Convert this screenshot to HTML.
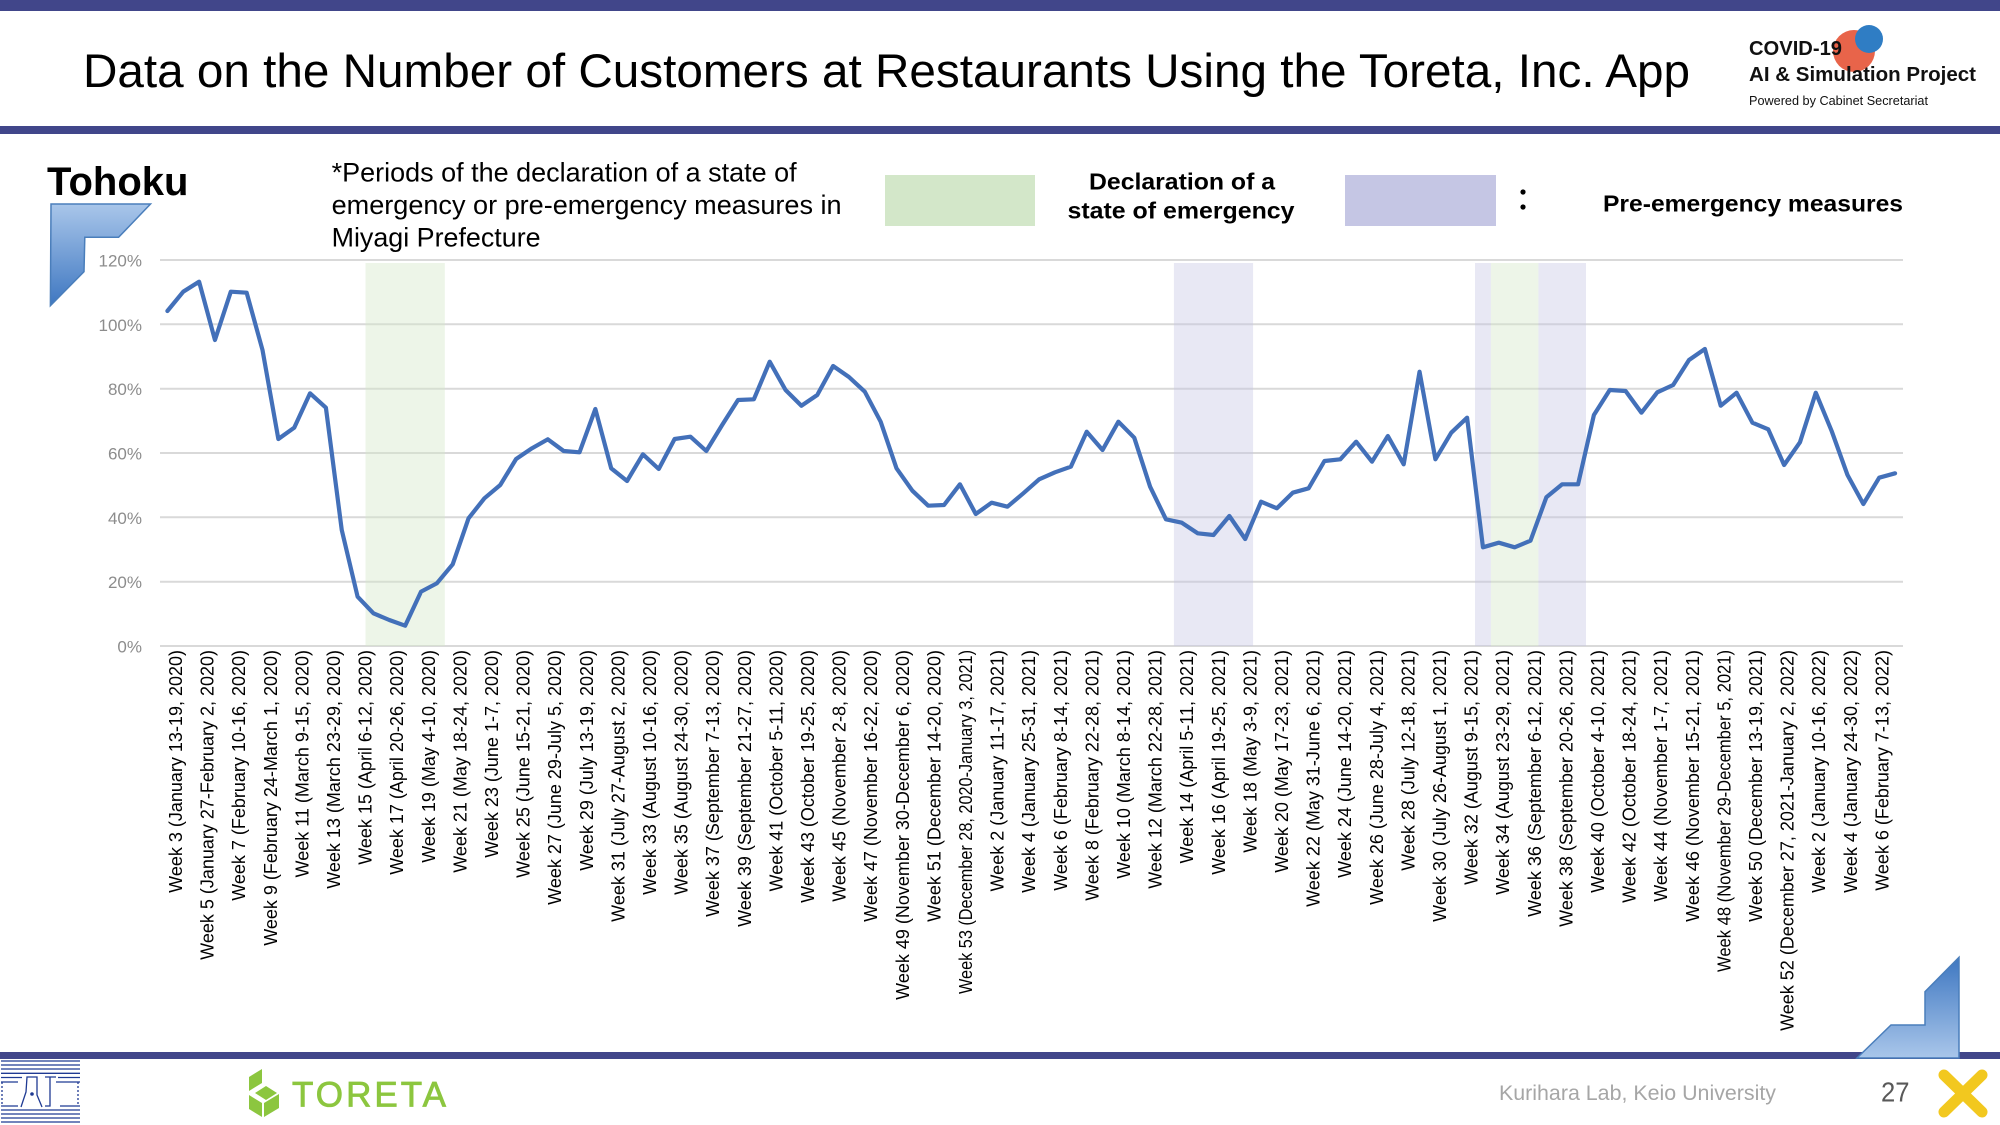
<!DOCTYPE html>
<html>
<head>
<meta charset="utf-8">
<style>
  html,body{margin:0;padding:0;background:#fff;}
  svg{display:block;}
  text{font-family:"Liberation Sans", Arial, sans-serif;}
</style>
</head>
<body>
<svg width="2000" height="1125" viewBox="0 0 2000 1125" xmlns="http://www.w3.org/2000/svg">
  <defs>
    <linearGradient id="gTL" x1="0" y1="0" x2="0" y2="1">
      <stop offset="0" stop-color="#A9C6EA"/>
      <stop offset="1" stop-color="#3E77C1"/>
    </linearGradient>
    <linearGradient id="gBR" x1="0" y1="0" x2="0" y2="1">
      <stop offset="0" stop-color="#3E77C1"/>
      <stop offset="1" stop-color="#A9C6EA"/>
    </linearGradient>
  </defs>

  <!-- header bars -->
  <rect x="0" y="0" width="2000" height="11" fill="#41468A"/>
  <rect x="0" y="126" width="2000" height="8" fill="#41468A"/>

  <!-- title -->
  <text x="83" y="87" font-size="47.5" fill="#000" textLength="1607" lengthAdjust="spacingAndGlyphs">Data on the Number of Customers at Restaurants Using the Toreta, Inc. App</text>

  <!-- COVID logo -->
  <circle cx="1854" cy="51" r="21" fill="#E8644A"/>
  <circle cx="1869" cy="39" r="14" fill="#2F7DC4"/>
  <text x="1749" y="55" font-size="20" font-weight="bold" fill="#111" textLength="93" lengthAdjust="spacingAndGlyphs">COVID-19</text>
  <text x="1749" y="81" font-size="20" font-weight="bold" fill="#111" textLength="227" lengthAdjust="spacingAndGlyphs">AI &amp; Simulation Project</text>
  <text x="1749" y="105" font-size="12.5" fill="#111" textLength="179" lengthAdjust="spacingAndGlyphs">Powered by Cabinet Secretariat</text>

  <!-- Tohoku -->
  <text x="47" y="195" font-size="40" font-weight="bold" fill="#000">Tohoku</text>
  <polygon points="51,204 150.5,204 118.6,237.3 84.8,237.3 84,271.7 50.4,305.7" fill="url(#gTL)" stroke="#4A7EBB" stroke-width="1.5"/>

  <!-- legend -->
  <text x="331.6" y="181.7" font-size="26.5" fill="#000" textLength="465" lengthAdjust="spacingAndGlyphs">*Periods of the declaration of a state of</text>
  <text x="331.6" y="214" font-size="26.5" fill="#000" textLength="510" lengthAdjust="spacingAndGlyphs">emergency or pre-emergency measures in</text>
  <text x="331.6" y="246.5" font-size="26.5" fill="#000" textLength="209" lengthAdjust="spacingAndGlyphs">Miyagi Prefecture</text>
  <rect x="885" y="175" width="150" height="51" fill="#D3E7C9"/>
  <text x="1182" y="189.3" font-size="23" font-weight="bold" fill="#000" text-anchor="middle" textLength="186" lengthAdjust="spacingAndGlyphs">Declaration of a</text>
  <text x="1181" y="218.3" font-size="23" font-weight="bold" fill="#000" text-anchor="middle" textLength="227" lengthAdjust="spacingAndGlyphs">state of emergency</text>
  <rect x="1345" y="175" width="151" height="51" fill="#C5C6E4"/>
  <circle cx="1523" cy="192" r="2.6" fill="#000"/>
  <circle cx="1523" cy="207" r="2.6" fill="#000"/>
  <text x="1603" y="211.7" font-size="23" font-weight="bold" fill="#000" textLength="300" lengthAdjust="spacingAndGlyphs">Pre-emergency measures</text>

  <!-- gridlines -->
  <g stroke="#D9D9D9" stroke-width="2">
    <line x1="160" y1="260" x2="1903" y2="260"/>
    <line x1="160" y1="324.3" x2="1903" y2="324.3"/>
    <line x1="160" y1="388.7" x2="1903" y2="388.7"/>
    <line x1="160" y1="453" x2="1903" y2="453"/>
    <line x1="160" y1="517.3" x2="1903" y2="517.3"/>
    <line x1="160" y1="581.7" x2="1903" y2="581.7"/>
    <line x1="160" y1="646" x2="1903" y2="646"/>
  </g>

  <!-- shaded bands -->
  <rect x="365.5" y="263" width="79.3" height="383" fill="#D3E7C9" fill-opacity="0.42"/>
  <rect x="1173.9" y="263" width="79.2" height="383" fill="#C5C6E4" fill-opacity="0.4"/>
  <rect x="1475.0" y="263" width="15.9" height="383" fill="#C5C6E4" fill-opacity="0.4"/>
  <rect x="1490.9" y="263" width="47.5" height="383" fill="#D3E7C9" fill-opacity="0.42"/>
  <rect x="1538.4" y="263" width="47.6" height="383" fill="#C5C6E4" fill-opacity="0.4"/>

  <!-- y labels -->
  <g font-size="17" fill="#8C8C8C" text-anchor="end">
    <text x="142" y="266.5">120%</text>
    <text x="142" y="330.8">100%</text>
    <text x="142" y="395.2">80%</text>
    <text x="142" y="459.5">60%</text>
    <text x="142" y="523.8">40%</text>
    <text x="142" y="588.2">20%</text>
    <text x="142" y="652.5">0%</text>
  </g>

  <!-- data line -->
  <polyline fill="none" stroke="#4370B9" stroke-width="4.2" stroke-linejoin="round" stroke-linecap="round" points="
167.4,311 183.25,291.7 199.1,281.7 214.95,340 230.8,291.7 246.65,292.7 262.5,350 278.35,439 294.2,427.7 310.05,393.3
325.9,407.7 341.75,530 357.6,596.7 373.45,613.3 389.3,620 405.15,625.7 421,591.7 436.85,583.3 452.7,564.3 468.55,518.3
484.4,498.3 500.25,485 516.1,459 531.95,448.3 547.8,439.3 563.65,451 579.5,452.3 595.35,409 611.2,468.3 627.05,481
642.9,454.3 658.75,469 674.6,439 690.45,436.7 706.3,451 722.15,425 738,400 753.85,399.3 769.7,361.7 785.55,390
801.4,405.7 817.25,395 833.1,366 848.95,377 864.8,391.7 880.65,421.7 896.5,468.3 912.35,490.7 928.2,505.7 944.05,505
959.9,484.3 975.75,514 991.6,502.7 1007.45,506.7 1023.3,493.3 1039.15,479.3 1055,472.3 1070.85,466.7 1086.7,431.7 1102.55,450
1118.4,421.7 1134.25,437.7 1150.1,486.7 1165.95,519.3 1181.8,522.7 1197.65,533.3 1213.5,535 1229.35,516 1245.2,539 1261.05,501.7
1276.9,508.3 1292.75,492.7 1308.6,488.3 1324.45,461 1340.3,459.3 1356.15,441.7 1372,461.7 1387.85,436 1403.7,464.3 1419.55,371.7
1435.4,459.3 1451.25,432.7 1467.1,417.7 1482.95,547.3 1498.8,542.7 1514.65,547.3 1530.5,540.7 1546.35,497.3 1562.2,484.3 1578.05,484.3
1593.9,415 1609.75,390 1625.6,391 1641.45,412.7 1657.3,392.3 1673.15,385 1689,360 1704.85,349 1720.7,405.7 1736.55,392.7
1752.4,422.7 1768.25,429.3 1784.1,465 1799.95,442.3 1815.8,392.7 1831.65,431 1847.5,475 1863.35,504 1879.2,477.7 1895.05,473.3"/>

  <!-- x labels -->
  <g font-size="18" fill="#000" text-anchor="end">
    <text transform="translate(182.0,650) rotate(-90)">Week 3 (January 13-19, 2020)</text>
    <text transform="translate(213.6,650) rotate(-90)">Week 5 (January 27-February 2, 2020)</text>
    <text transform="translate(245.2,650) rotate(-90)">Week 7 (February 10-16, 2020)</text>
    <text transform="translate(276.8,650) rotate(-90)">Week 9 (February 24-March 1, 2020)</text>
    <text transform="translate(308.4,650) rotate(-90)">Week 11 (March 9-15, 2020)</text>
    <text transform="translate(340.0,650) rotate(-90)">Week 13 (March 23-29, 2020)</text>
    <text transform="translate(371.6,650) rotate(-90)">Week 15 (April 6-12, 2020)</text>
    <text transform="translate(403.2,650) rotate(-90)">Week 17 (April 20-26, 2020)</text>
    <text transform="translate(434.8,650) rotate(-90)">Week 19 (May 4-10, 2020)</text>
    <text transform="translate(466.4,650) rotate(-90)">Week 21 (May 18-24, 2020)</text>
    <text transform="translate(498.0,650) rotate(-90)">Week 23 (June 1-7, 2020)</text>
    <text transform="translate(529.6,650) rotate(-90)">Week 25 (June 15-21, 2020)</text>
    <text transform="translate(561.2,650) rotate(-90)">Week 27 (June 29-July 5, 2020)</text>
    <text transform="translate(592.8,650) rotate(-90)">Week 29 (July 13-19, 2020)</text>
    <text transform="translate(624.4,650) rotate(-90)">Week 31 (July 27-August 2, 2020)</text>
    <text transform="translate(656.0,650) rotate(-90)">Week 33 (August 10-16, 2020)</text>
    <text transform="translate(687.6,650) rotate(-90)">Week 35 (August 24-30, 2020)</text>
    <text transform="translate(719.2,650) rotate(-90)">Week 37 (September 7-13, 2020)</text>
    <text transform="translate(750.8,650) rotate(-90)">Week 39 (September 21-27, 2020)</text>
    <text transform="translate(782.4,650) rotate(-90)">Week 41 (October 5-11, 2020)</text>
    <text transform="translate(814.0,650) rotate(-90)">Week 43 (October 19-25, 2020)</text>
    <text transform="translate(845.6,650) rotate(-90)">Week 45 (November 2-8, 2020)</text>
    <text transform="translate(877.2,650) rotate(-90)">Week 47 (November 16-22, 2020)</text>
    <text transform="translate(908.8,650) rotate(-90)">Week 49 (November 30-December 6, 2020)</text>
    <text transform="translate(940.4,650) rotate(-90)">Week 51 (December 14-20, 2020)</text>
    <text transform="translate(972.0,650) rotate(-90)" textLength="344" lengthAdjust="spacingAndGlyphs">Week 53 (December 28, 2020-January 3, 2021)</text>
    <text transform="translate(1003.6,650) rotate(-90)">Week 2 (January 11-17, 2021)</text>
    <text transform="translate(1035.2,650) rotate(-90)">Week 4 (January 25-31, 2021)</text>
    <text transform="translate(1066.8,650) rotate(-90)">Week 6 (February 8-14, 2021)</text>
    <text transform="translate(1098.4,650) rotate(-90)">Week 8 (February 22-28, 2021)</text>
    <text transform="translate(1130.0,650) rotate(-90)">Week 10 (March 8-14, 2021)</text>
    <text transform="translate(1161.6,650) rotate(-90)">Week 12 (March 22-28, 2021)</text>
    <text transform="translate(1193.2,650) rotate(-90)">Week 14 (April 5-11, 2021)</text>
    <text transform="translate(1224.8,650) rotate(-90)">Week 16 (April 19-25, 2021)</text>
    <text transform="translate(1256.4,650) rotate(-90)">Week 18 (May 3-9, 2021)</text>
    <text transform="translate(1288.0,650) rotate(-90)">Week 20 (May 17-23, 2021)</text>
    <text transform="translate(1319.6,650) rotate(-90)">Week 22 (May 31-June 6, 2021)</text>
    <text transform="translate(1351.2,650) rotate(-90)">Week 24 (June 14-20, 2021)</text>
    <text transform="translate(1382.8,650) rotate(-90)">Week 26 (June 28-July 4, 2021)</text>
    <text transform="translate(1414.4,650) rotate(-90)">Week 28 (July 12-18, 2021)</text>
    <text transform="translate(1446.0,650) rotate(-90)">Week 30 (July 26-August 1, 2021)</text>
    <text transform="translate(1477.6,650) rotate(-90)">Week 32 (August 9-15, 2021)</text>
    <text transform="translate(1509.2,650) rotate(-90)">Week 34 (August 23-29, 2021)</text>
    <text transform="translate(1540.8,650) rotate(-90)">Week 36 (September 6-12, 2021)</text>
    <text transform="translate(1572.4,650) rotate(-90)">Week 38 (September 20-26, 2021)</text>
    <text transform="translate(1604.0,650) rotate(-90)">Week 40 (October 4-10, 2021)</text>
    <text transform="translate(1635.6,650) rotate(-90)">Week 42 (October 18-24, 2021)</text>
    <text transform="translate(1667.2,650) rotate(-90)">Week 44 (November 1-7, 2021)</text>
    <text transform="translate(1698.8,650) rotate(-90)">Week 46 (November 15-21, 2021)</text>
    <text transform="translate(1730.4,650) rotate(-90)" textLength="322" lengthAdjust="spacingAndGlyphs">Week 48 (November 29-December 5, 2021)</text>
    <text transform="translate(1762.0,650) rotate(-90)">Week 50 (December 13-19, 2021)</text>
    <text transform="translate(1793.6,650) rotate(-90)">Week 52 (December 27, 2021-January 2, 2022)</text>
    <text transform="translate(1825.2,650) rotate(-90)">Week 2 (January 10-16, 2022)</text>
    <text transform="translate(1856.8,650) rotate(-90)">Week 4 (January 24-30, 2022)</text>
    <text transform="translate(1888.4,650) rotate(-90)">Week 6 (February 7-13, 2022)</text>
  </g>

  <!-- footer bar -->
  <rect x="0" y="1052" width="2000" height="7" fill="#41468A"/>

  <!-- bottom-right deco -->
  <polygon points="1857,1058 1891,1025 1925,1025 1925,991.7 1959,957.3 1959,1058" fill="url(#gBR)" stroke="#4A7EBB" stroke-width="1.5"/>

  <!-- left logo -->
  <g stroke="#1F3A93" stroke-width="1.3" fill="none">
    <line x1="1" y1="1061" x2="80" y2="1061"/>
    <line x1="1" y1="1065" x2="80" y2="1065"/>
    <line x1="1" y1="1069" x2="80" y2="1069"/>
    <line x1="1" y1="1073.3" x2="80" y2="1073.3"/>
    <line x1="1" y1="1077.5" x2="22" y2="1077.5"/>
    <line x1="58" y1="1077.5" x2="80" y2="1077.5"/>
    <line x1="1" y1="1082" x2="18" y2="1082"/>
    <line x1="56" y1="1082" x2="80" y2="1082"/>
    <line x1="2" y1="1082" x2="2" y2="1106" stroke-dasharray="2,2"/>
    <line x1="78" y1="1082" x2="78" y2="1106" stroke-dasharray="2,2"/>
    <line x1="1" y1="1106" x2="18" y2="1106"/>
    <line x1="60" y1="1106" x2="80" y2="1106"/>
    <path d="M21 1107 L26 1092 L27 1077 L37 1077 L37 1095 L42 1107"/>
    <path d="M45 1077 L56 1077 M50 1077 L50 1106 L45 1106"/>
    <line x1="1" y1="1110" x2="80" y2="1110"/>
    <line x1="1" y1="1114" x2="80" y2="1114"/>
    <line x1="1" y1="1118" x2="80" y2="1118"/>
    <line x1="1" y1="1122" x2="80" y2="1122"/>
  </g>
  <circle cx="32" cy="1094" r="1.8" fill="#1F3A93"/>

  <!-- TORETA logo -->
  <g fill="#8CC63F">
    <polygon points="249,1077 262,1069 262,1083 249,1091"/>
    <polygon points="255,1093 266,1086 277,1093 266,1100"/>
    <polygon points="264,1103 279,1094 279,1108 264,1117"/>
    <polygon points="249,1095 262,1103 262,1117 249,1109"/>
  </g>
  <text x="292" y="1106.7" font-size="35" fill="#8CC63F" stroke="#8CC63F" stroke-width="0.8" textLength="154" lengthAdjust="spacing">TORETA</text>

  <!-- footer text -->
  <text x="1499" y="1100" font-size="21" fill="#A6A6A6" textLength="277" lengthAdjust="spacingAndGlyphs">Kurihara Lab, Keio University</text>
  <text x="1881" y="1101.7" font-size="28" fill="#595959" textLength="28.5" lengthAdjust="spacingAndGlyphs">27</text>

  <!-- yellow X logo -->
  <g stroke="#F2C81F" stroke-width="11" stroke-linecap="round">
    <line x1="1944" y1="1075" x2="1982" y2="1112"/>
    <line x1="1982" y1="1075" x2="1944" y2="1112"/>
  </g>
</svg>
</body>
</html>
